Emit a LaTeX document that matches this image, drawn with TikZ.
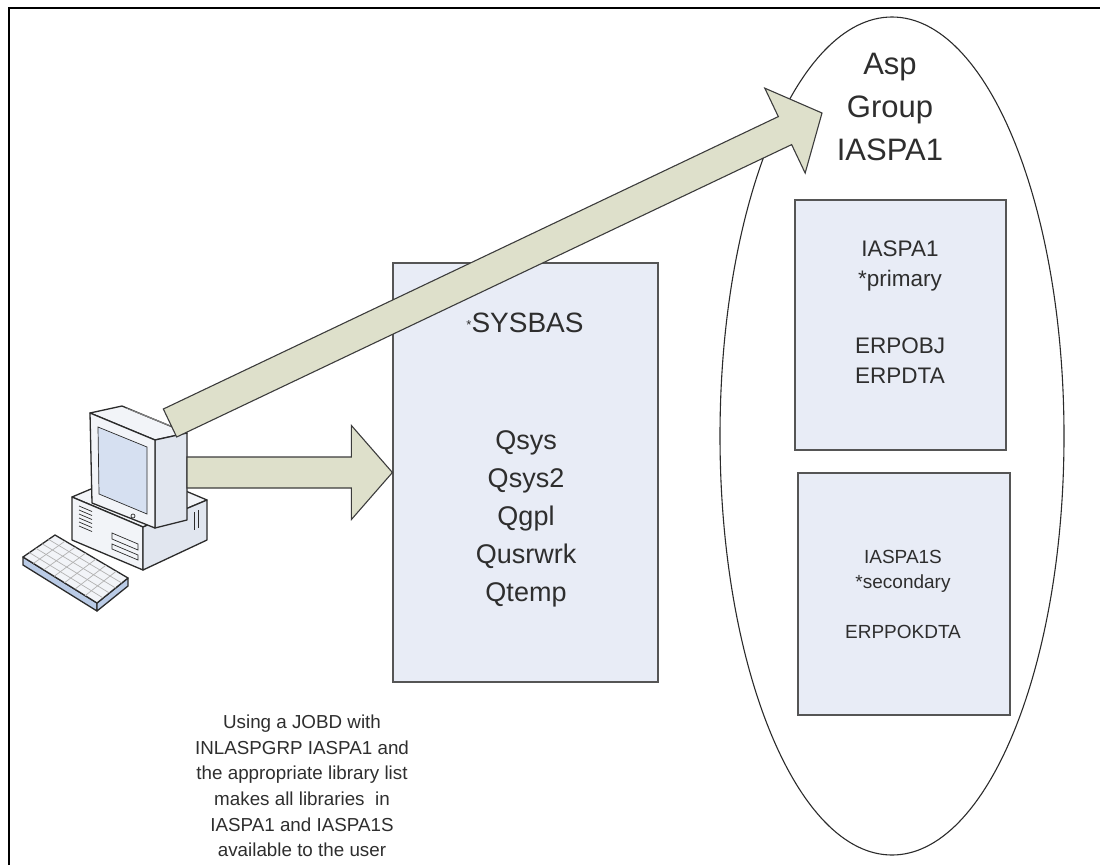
\documentclass[tikz,border=0pt]{standalone}
\usepackage{fontspec}
\setmainfont{Liberation Sans}
\usetikzlibrary{positioning, calc, shapes.geometric}
\definecolor{BoxFill}{HTML}{E8ECF6}
\definecolor{BoxEdge}{HTML}{555555}
\definecolor{ArrowFill}{HTML}{DEE0CB}
\definecolor{ArrowEdge}{HTML}{3C3C3C}
\definecolor{InkGray}{HTML}{2E2E2E}
\definecolor{PcEdge}{HTML}{2B2B2B}
\definecolor{PcBody}{HTML}{F2F4F8}
\definecolor{PcShade}{HTML}{E1E6EF}
\definecolor{ScreenBlue}{HTML}{D6E0F1}
\definecolor{KeyBlue}{HTML}{BACBE6}

% fat block arrow from #1 to the tip #2
\newcommand{\blockarrow}[2]{%
  \coordinate (head) at ($(#2)!41pt!(#1)$);
  \filldraw[fatarrow] ($(#1)!15.5pt!90:(#2)$) -- ($(head)!15.5pt!90:(#2)$)
    -- ($(head)!47pt!90:(#2)$) -- (#2) -- ($(head)!47pt!-90:(#2)$)
    -- ($(head)!15.5pt!-90:(#2)$) -- ($(#1)!15.5pt!-90:(#2)$) -- cycle;
}

\begin{document}
\begin{tikzpicture}[x=1pt, y=-1pt,
  libbox/.style={rectangle, draw=BoxEdge, fill=BoxFill, line width=1.2pt, inner sep=0pt},
  fatarrow/.style={draw=ArrowEdge, fill=ArrowFill, line width=1.1pt, line join=miter},
  txt/.style={text=InkGray, align=center, inner sep=0pt},
  pcpart/.style={draw=PcEdge, fill=PcBody, line width=1.3pt, line join=round},
  pcline/.style={draw=PcEdge, line width=0.7pt}
]
  \useasboundingbox (0,0) rectangle (1100,865);
  \draw[line width=2pt] (9,865) -- (9,8) -- (1100,8);

  % asp group and the libraries
  \node[draw=PcEdge, ellipse, line width=1.1pt, minimum width=344pt, minimum height=838pt, inner sep=0pt] (aspgroup) at (892,436) {};
  \node[libbox, minimum width=265pt, minimum height=419pt] (sysbas) at (525.5,472.5) {};
  \node[libbox, minimum width=211pt, minimum height=250pt] (primary) at (900.5,325) {};
  \node[libbox, minimum width=212pt, minimum height=242pt] (secondary) at (904,594) {};

  % workstation: base unit
  \filldraw[pcpart] (72,497) -- (136,470) -- (207,500) -- (143,527) -- cycle;
  \filldraw[pcpart] (72,497) -- (143,527) -- (143,570) -- (72,540) -- cycle;
  \filldraw[pcpart, fill=PcShade] (143,527) -- (207,500) -- (207,540) -- (143,570) -- cycle;
  \foreach \k in {0,...,5}
    \draw[pcline] (79,506+4*\k) -- (92,511.5+4*\k);
  \draw[pcline] (112,533) -- (138,544) -- (138,550) -- (112,539) -- cycle;
  \draw[pcline] (112,544) -- (138,555) -- (138,560) -- (112,549) -- cycle;
  \draw[pcline] (194,512) -- (194,530);
  \draw[pcline] (198,510) -- (198,528);
  % workstation: monitor
  \filldraw[pcpart] (90,413) -- (122,406) -- (187,433) -- (155,440) -- cycle;
  \foreach \k in {0,...,6}
    \draw[pcline, draw=gray] (126+5*\k,408+2*\k) -- (148+5*\k,417+2*\k);
  \filldraw[pcpart, fill=PcShade] (155,440) -- (187,433) -- (187,520) -- (155,528) -- cycle;
  \filldraw[pcpart] (90,413) -- (155,440) -- (155,528) -- (92,503) -- cycle;
  \filldraw[pcline, fill=ScreenBlue] (98,427) -- (147,447) -- (147,514) -- (99,494) -- cycle;
  \draw[pcline] (133,516) circle (2);
  % workstation: keyboard
  \filldraw[pcpart, fill=KeyBlue] (23,557) -- (97,603) -- (97,611) -- (23,565) -- cycle;
  \filldraw[pcpart, fill=KeyBlue] (97,603) -- (128,578) -- (128,586) -- (97,611) -- cycle;
  \filldraw[pcpart] (23,557) -- (55,535) -- (128,578) -- (97,603) -- cycle;
  \foreach \t in {0.2,0.4,0.6,0.8}
    \draw[pcline, draw=gray!60] ($(23,557)!\t!(55,535)$) -- ($(97,603)!\t!(128,578)$);
  \foreach \t in {0.14,0.28,0.42,0.56,0.70,0.84}
    \draw[pcline, draw=gray!60] ($(23,557)!\t!(97,603)$) -- ($(55,535)!\t!(128,578)$);
  \coordinate (pcface) at (187,472.5);
  \coordinate (pctop) at (170,423);
  \coordinate (grpentry) at (822,113);

  % connections
  \blockarrow{pcface}{sysbas.west}
  \blockarrow{pctop}{grpentry}

  % texts
  \node[txt, font=\fontsize{28}{34}\selectfont] (sysname) at (525,323) {\raisebox{3pt}{\fontsize{13}{13}\selectfont *}SYSBAS};
  \node[txt, font=\fontsize{27}{38}\selectfont] (syslibs) at (526,519) {Qsys\\Qsys2\\Qgpl\\Qusrwrk\\Qtemp};
  \node[txt, font=\fontsize{31}{43}\selectfont] (grpname) at (890,107) {Asp\\Group\\IASPA1};
  \node[txt, font=\fontsize{22.5}{30}\selectfont] (primlibs) at (900,312) {IASPA1\\*primary\\[37pt]ERPOBJ\\ERPDTA};
  \node[txt, font=\fontsize{19}{25}\selectfont] (seclibs) at (903,594) {IASPA1S\\*secondary\\[25pt]ERPPOKDTA};
  \node[txt, font=\fontsize{18.8}{25.7}\selectfont] (note) at (302,786) {Using a JOBD with\\INLASPGRP IASPA1 and\\the appropriate library list\\makes all libraries\ \ in\\IASPA1 and IASPA1S\\available to the user};
\end{tikzpicture}
\end{document}
